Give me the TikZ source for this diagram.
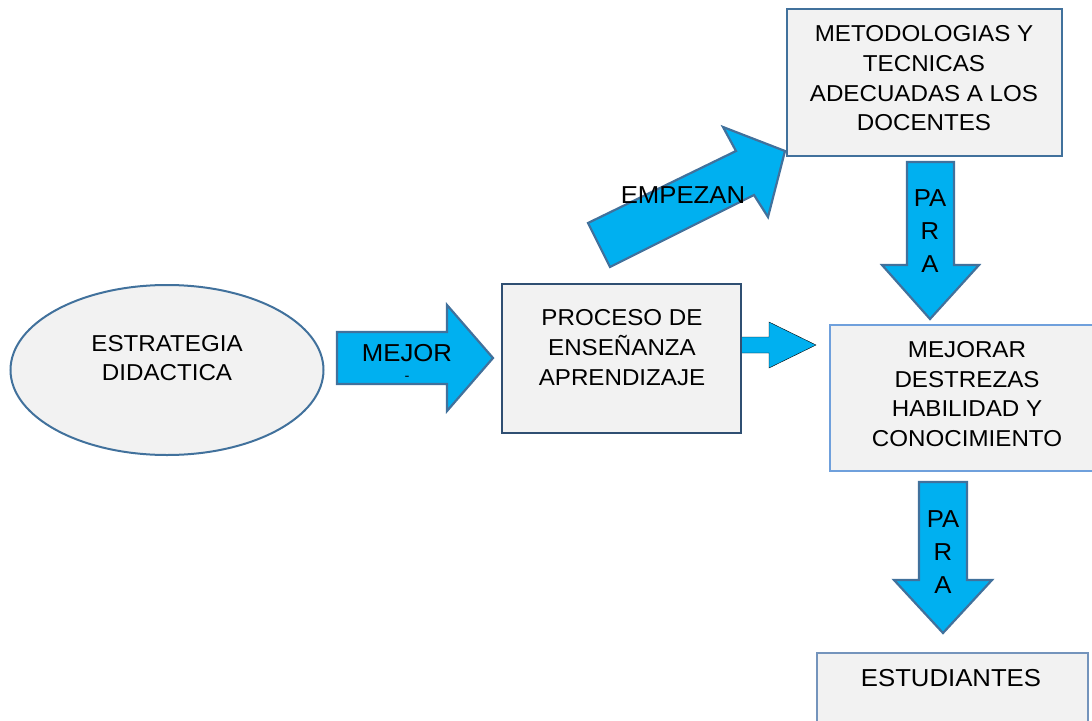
\documentclass[tikz,border=0pt]{standalone}
\usepackage{fontspec}
\setmainfont{Liberation Sans}[FakeStretch=1.05]
\usetikzlibrary{shapes.geometric}
\definecolor{boxfill}{HTML}{F2F2F2}
\definecolor{steel}{HTML}{41719C}
\definecolor{navy}{HTML}{2F4F72}
\definecolor{lightblue}{HTML}{6FA0DC}
\definecolor{greyblue}{HTML}{7494BC}
\definecolor{arrowfill}{HTML}{00B0F0}
\tikzset{
  boxtext/.style={align=center, inner sep=0pt, font=\fontsize{23}{29.7}\selectfont},
  labeltext/.style={align=center, inner sep=0pt, font=\fontsize{24.5}{33}\selectfont},
  blockarrow/.style={fill=arrowfill, draw=steel, line width=2.2pt, line join=miter},
  plainarrow/.style={fill=arrowfill},
  panel/.style={fill=boxfill, inner sep=0pt, outer sep=0pt},
}
\begin{document}
\begin{tikzpicture}[x=1pt,y=-1pt]
\useasboundingbox (0,0) rectangle (1092,720);

% ellipse
\node[panel, ellipse, draw=steel, line width=2pt, minimum width=313pt, minimum height=170pt] (estr) at (167,370) {};
\node[boxtext] (estrtxt) at (167,358) {ESTRATEGIA\\DIDACTICA};

% small arrow (behind the process box)
\draw[plainarrow] (729,337) -- (769,337) -- (769,322) -- (816,345) -- (769,368) -- (769,353) -- (729,353) -- cycle;

% process box
\node[panel, draw=navy, line width=2.5pt, minimum width=239pt, minimum height=149pt] (proc) at (621.5,358.5) {};
\node[boxtext] (proctxt) at (622,347.5) {PROCESO DE\\ENSEÑANZA\\APRENDIZAJE};

% methodologies box
\node[panel, draw=steel, line width=2.5pt, minimum width=275pt, minimum height=147pt] (meto) at (924.5,82.5) {};
\node[boxtext] (metotxt) at (924,78.5) {METODOLOGIAS Y\\TECNICAS\\ADECUADAS A LOS\\DOCENTES};

% improve box
\node[panel, draw=lightblue, line width=1.5pt, minimum width=270pt, minimum height=146pt] (mejo) at (965,398) {};
\node[boxtext] (mejotxt) at (967,394) {MEJORAR\\DESTREZAS\\HABILIDAD Y\\CONOCIMIENTO};

% students box
\node[panel, draw=greyblue, line width=1.5pt, minimum width=271pt, minimum height=87pt] (estu) at (952.5,696.5) {};
\node[labeltext] (estutxt) at (951,678) {ESTUDIANTES};

% MEJOR arrow
\draw[blockarrow] (337,332) -- (447,332) -- (447,305) -- (493,358) -- (447,411) -- (447,384) -- (337,384) -- cycle;
\node[labeltext] (mejortxt) at (407,353.3) {MEJOR};
\node[inner sep=0pt, font=\fontsize{14}{16}\selectfont] (dash) at (407,378) {-};

% EMPEZAN arrow
\draw[blockarrow] (588,223) -- (736,151) -- (723,127) -- (785,151) -- (768,217) -- (754,195) -- (610,267) -- cycle;
\node[labeltext] (empetxt) at (683,195.5) {EMPEZAN};

% PARA arrow 1
\draw[blockarrow] (907,162) -- (954,162) -- (954,265) -- (979,265) -- (930,319) -- (882,265) -- (907,265) -- cycle;
\node[labeltext] (para1) at (930,231) {PA\\R\\A};

% PARA arrow 2
\draw[blockarrow] (919,482) -- (967,482) -- (967,580) -- (992,580) -- (943,633) -- (894,580) -- (919,580) -- cycle;
\node[labeltext] (para2) at (943,552) {PA\\R\\A};
\end{tikzpicture}
\end{document}
